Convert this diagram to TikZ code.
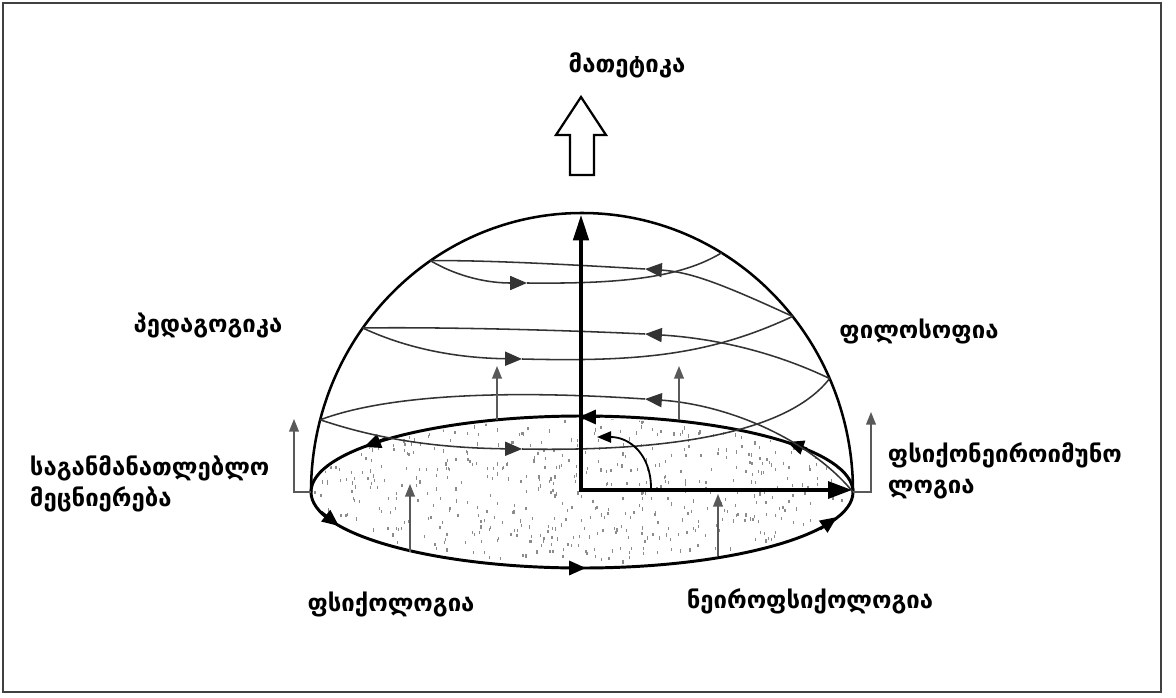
\documentclass[tikz,border=0pt]{standalone}
\usepackage{fontspec}
\setmainfont{DejaVu Sans}
\usepackage{tikz}
\usetikzlibrary{arrows.meta}

\begin{document}
\begin{tikzpicture}[x=0.025cm,y=0.025cm,
  lbl/.style={font=\bfseries\fontsize{17}{22.5}\selectfont},
  rim/.style={line width=2.1pt},
  coil/.style={line width=1.1pt,draw=black!80},
  tip/.style={-{Triangle[length=12pt,width=10pt]}},
  riser/.style={line width=1pt,draw=black!65,-{Triangle[length=9pt,width=7pt]}}]
\useasboundingbox (0,0) rectangle (1176,-697);
\draw[line width=1.6pt,black!75] (3,-3) rectangle (1161,-692);

% base points
\coordinate (O) at (581,-490);
\coordinate (W) at (311,-492);
\coordinate (E) at (853,-492);
\coordinate (L1) at ([shift={(582,-492)}]165:271 and 279);
\coordinate (L2) at ([shift={(582,-492)}]144:271 and 279);
\coordinate (L3) at ([shift={(582,-492)}]124:271 and 279);
\coordinate (R1) at ([shift={(582,-492)}]24:271 and 279);
\coordinate (R2) at ([shift={(582,-492)}]39:271 and 279);
\coordinate (R3) at ([shift={(582,-492)}]59:271 and 279);

% stippled floor
\begin{scope}
\clip (582,-492) ellipse [x radius=268, y radius=73];
\pgfmathsetseed{5}
\foreach \i in {1,...,520} {
  \pgfmathsetmacro\ang{360*rnd}
  \pgfmathsetmacro\rad{sqrt(rnd)}
  \fill[black!45] ({582+268*\rad*cos(\ang)},{-492+73*\rad*sin(\ang)}) rectangle ++(1.3,3.2);
}
\end{scope}

% dome and floor
\draw[line width=1.8pt] (W) arc[start angle=180, end angle=0, x radius=271, y radius=279];
\draw[rim] (582,-492) ellipse [x radius=271, y radius=76];
\draw[rim,tip] (564,-568) -- (586,-568);
\draw[rim,tip] (820,-529) -- (837,-517);
\draw[rim,tip] (600,-417) -- (579,-417);
\draw[rim,tip] (385,-439) -- (364,-447);
\draw[rim,tip] (321,-512) -- (339,-526);
\draw[rim,tip] (807,-449) -- (787,-442);

% spiral, back parts
\draw[coil,tip] (E) .. controls (810,-440) and (730,-405) .. (645,-399);
\draw[coil] (645,-399) .. controls (540,-392) and (400,-390) .. (L1);
\draw[coil,tip] (R1) .. controls (770,-350) and (710,-338) .. (645,-334);
\draw[coil] (645,-334) .. controls (540,-329) and (420,-327) .. (L2);
\draw[coil,tip] (R2) .. controls (720,-283) and (690,-272) .. (645,-269);
\draw[coil] (645,-269) .. controls (560,-264) and (480,-260) .. (L3);

% spiral, front parts
\draw[coil,tip] (L1) .. controls (380,-440) and (440,-448) .. (522,-449);
\draw[coil] (522,-449) .. controls (680,-452) and (790,-430) .. (R1);
\draw[coil,tip] (L2) .. controls (410,-350) and (460,-358) .. (522,-359);
\draw[coil] (522,-359) .. controls (640,-362) and (710,-355) .. (R2);
\draw[coil,tip] (L3) .. controls (460,-278) and (490,-283) .. (527,-283);
\draw[coil] (527,-283) .. controls (620,-284) and (680,-278) .. (R3);

% gray risers
\draw[riser] (410,-552) -- (410,-484);
\draw[riser] (718,-556) -- (718,-494);
\draw[riser] (497,-420) -- (497,-366);
\draw[riser] (679,-420) -- (679,-366);
\draw[riser] (W) -- (294,-492) -- (294,-419);
\draw[riser] (E) -- (871,-492) -- (871,-412);

% axes
\draw[line width=2.4pt,{Triangle[length=18pt,width=11pt]}-{Triangle[length=17pt,width=12pt]}]
  (581,-215) -- (O) -- (852,-490);
\draw[line width=1.3pt,-{Triangle[length=10pt,width=8pt]}] (651,-488) .. controls (651,-455) and (630,-437) .. (597,-437);

% hollow arrow on top
\draw[line width=1.6pt,fill=white] (581,-97) -- (606,-135) -- (594,-135) -- (594,-175)
  -- (570,-175) -- (570,-135) -- (556,-135) -- cycle;

% labels
\node[lbl] (math) at (627,-65) {მათეტიკა};
\node[lbl] (ped) at (208,-325) {პედაგოგიკა};
\node[lbl] (phil) at (919,-331) {ფილოსოფია};
\node[lbl,align=left,anchor=west] (edu) at (25,-484) {საგანმანათლებლო\\მეცნიერება};
\node[lbl,align=left,anchor=west] (pni) at (883,-471) {ფსიქონეიროიმუნო\\ლოგია};
\node[lbl] (psy) at (391,-604) {ფსიქოლოგია};
\node[lbl] (neuro) at (810,-601) {ნეიროფსიქოლოგია};
\end{tikzpicture}
\end{document}
